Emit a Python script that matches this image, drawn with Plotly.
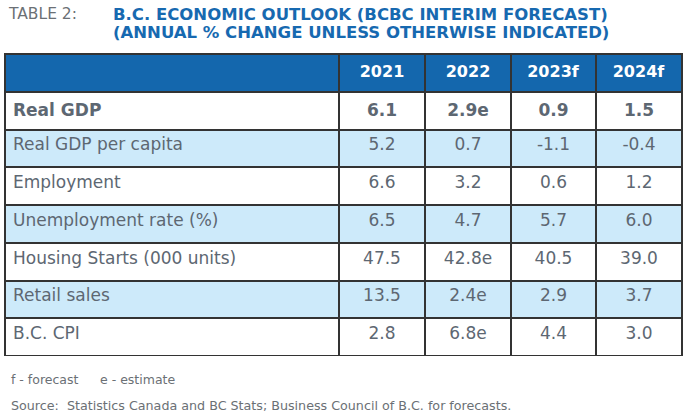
import plotly.graph_objects as go

# ------------------------------------------
# data read off the reference table
# ------------------------------------------
YEARS = ["2021", "2022", "2023f", "2024f"]
INDICATORS = [
    "Real GDP",
    "Real GDP per capita",
    "Employment",
    "Unemployment rate (%)",
    "Housing Starts (000 units)",
    "Retail sales",
    "B.C. CPI",
]
VAL_2021 = ["6.1", "5.2", "6.6", "6.5", "47.5", "13.5", "2.8"]
VAL_2022 = ["2.9e", "0.7", "3.2", "4.7", "42.8e", "2.4e", "6.8e"]
VAL_2023 = ["0.9", "-1.1", "0.6", "5.7", "40.5", "2.9", "4.4"]
VAL_2024 = ["1.5", "-0.4", "1.2", "6.0", "39.0", "3.7", "3.0"]

TITLE_LINE1 = "B.C. ECONOMIC OUTLOOK (BCBC INTERIM FORECAST)"
TITLE_LINE2 = "(ANNUAL % CHANGE UNLESS OTHERWISE INDICATED)"

# ------------------------------------------
# styling
# ------------------------------------------
W, H = 691, 417
BLUE = "#1467ad"
LIGHT = "#cdeafa"
TEXT = "#5d6772"
NOTE = "#6b7075"
BORDER = "#333333"
FONT = "DejaVu Sans"

# first row is bold in the original
def bold_first(col):
    return ["<b>%s</b>" % col[0]] + col[1:]

columns = [bold_first(INDICATORS), bold_first(VAL_2021), bold_first(VAL_2022),
           bold_first(VAL_2023), bold_first(VAL_2024)]

row_fill = ["white" if i % 2 == 0 else LIGHT for i in range(len(INDICATORS))]

top_px, bottom_px = 54, 356
header_h = 38
row_h = (bottom_px - top_px - header_h) / len(INDICATORS)

fig = go.Figure(go.Table(
    domain=dict(x=[5 / W, 682 / W], y=[1 - bottom_px / H, 1 - top_px / H]),
    columnwidth=[334, 86, 86, 85, 86],
    header=dict(
        values=[""] + ["<b>%s</b>" % y for y in YEARS],
        fill_color=BLUE,
        line=dict(color=BORDER, width=2),
        align="center",
        height=header_h,
        font=dict(family=FONT, size=16, color="white"),
    ),
    cells=dict(
        values=columns,
        fill_color=[row_fill] * 5,
        line=dict(color=BORDER, width=2),
        align=["left", "center", "center", "center", "center"],
        height=row_h,
        font=dict(family=FONT, size=17, color=TEXT),
    ),
))


def note(x_px, y_px, text, size, color):
    fig.add_annotation(x=x_px / W, y=1 - y_px / H, xref="paper", yref="paper",
                       xanchor="left", yanchor="middle", showarrow=False,
                       text=text, font=dict(family=FONT, size=size, color=color))


# title block
note(6, 14, "TABLE 2:", 15.5, NOTE)
note(111, 14, "<b>%s</b>" % TITLE_LINE1, 16.5, "#1769b0")
note(111, 33, "<b>%s</b>" % TITLE_LINE2, 16.5, "#1769b0")

# footnotes
note(9, 379, "f - forecast", 12.5, NOTE)
note(98, 379, "e - estimate", 12.5, NOTE)
note(9, 405, "Source:\u00a0 Statistics Canada and BC Stats; Business Council of B.C. for forecasts.", 12.7, NOTE)

fig.update_layout(
    width=W, height=H,
    margin=dict(l=0, r=0, t=0, b=0),
    paper_bgcolor="white",
    plot_bgcolor="white",
)

# drop the browser's default body margin so the figure sits at the page corner
fig.write_html("out.html", config={"displayModeBar": False},
               post_script="document.body.style.margin='0';")
